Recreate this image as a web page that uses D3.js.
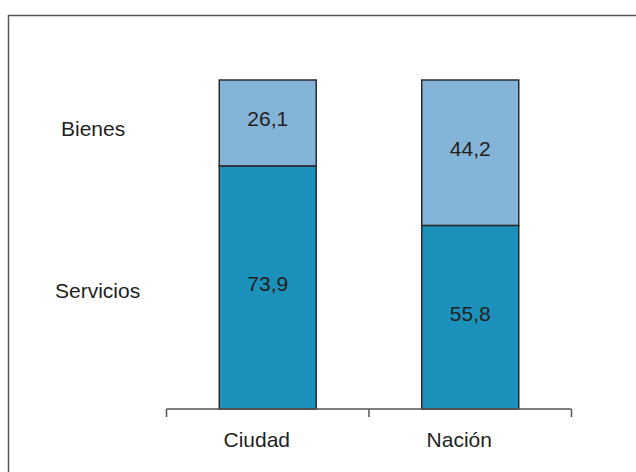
<!DOCTYPE html>
<html>
<head>
<meta charset='utf-8' />
<title>Bienes y servicios</title>
<script src="https://d3js.org/d3.v7.min.js"></script>
<style>
body { margin: 0; padding: 0; background: #fff; }
#chart text { font-family: "Liberation Sans", Arial, sans-serif; fill: #231f20; }
</style>
</head>
<body>
<div id='chart'></div>
<script>

// data
var categories = ["Ciudad", "Nación"];
var series = ["Servicios", "Bienes"];
var servicios = [73.9, 55.8];
var bienes = [26.1, 44.2];
var valueLabels = { Servicios: ["73,9", "55,8"], Bienes: ["26,1", "44,2"] };

var width = 636, height = 472;

var svg = d3.select("#chart")
  .append("svg")
    .attr("width", width)
    .attr("height", height);

// frame (top + left edges only)
svg.append("path")
  .attr("d", "M8.5," + height + "V15.5H" + width)
  .attr("fill", "none")
  .attr("stroke", "#555")
  .attr("stroke-width", 1.5);

var rows = categories.map(function(c, i) {
  return { cat: c, Servicios: servicios[i], Bienes: bienes[i] };
});

var stacked = d3.stack().keys(series)(rows);

var x = d3.scaleBand()
  .domain(categories)
  .range([166.5, 571.5])
  .paddingInner(0)
  .paddingOuter(0);

var y = d3.scaleLinear()
  .domain([0, 100])
  .range([409, 80]);

var barW = 97;

var color = d3.scaleOrdinal()
  .domain(series)
  .range(["#1b91bb", "#85b4d9"]);

//////////
// BARS //
//////////

var layers = svg.selectAll("g.layer")
  .data(stacked)
  .enter()
  .append("g")
    .attr("class", "layer")
    .attr("fill", function(d) { return color(d.key); });

layers.selectAll("rect")
  .data(function(d) { return d; })
  .enter()
  .append("rect")
    .attr("x", function(d) { return x(d.data.cat) + (x.bandwidth() - barW) / 2; })
    .attr("y", function(d) { return y(d[1]); })
    .attr("width", barW)
    .attr("height", function(d) { return y(d[0]) - y(d[1]); })
    .attr("stroke", "#2b2b2b")
    .attr("stroke-width", 1.5);

// value labels
layers.each(function(layer) {
  d3.select(this).selectAll("text")
    .data(layer)
    .enter()
    .append("text")
      .attr("x", function(d) { return x(d.data.cat) + x.bandwidth() / 2; })
      .attr("y", function(d) { return (y(d[0]) + y(d[1])) / 2 - 4; })
      .attr("dy", "0.35em")
      .attr("text-anchor", "middle")
      .style("font-size", "21px")
      .text(function(d, i) { return valueLabels[layer.key][i]; });
});

//////////
// AXIS //
//////////

var axis = svg.append("g")
  .attr("transform", "translate(0,409)");

axis.append("line")
  .attr("x1", x.range()[0]).attr("x2", x.range()[1])
  .attr("stroke", "#555").attr("stroke-width", 1.5);

var tickPos = categories.map(function(c) { return x(c); }).concat([x.range()[1]]);
axis.selectAll("line.tick")
  .data(tickPos)
  .enter()
  .append("line")
    .attr("class", "tick")
    .attr("x1", function(d) { return d; })
    .attr("x2", function(d) { return d; })
    .attr("y1", 0).attr("y2", 8)
    .attr("stroke", "#555").attr("stroke-width", 1.5);

axis.selectAll("text")
  .data(categories)
  .enter()
  .append("text")
    .attr("x", function(d) { return x(d) + x.bandwidth() / 2 - 11; })
    .attr("y", 38)
    .attr("text-anchor", "middle")
    .style("font-size", "21px")
    .text(function(d) { return d; });

// series names on the left
var legendY = { Bienes: 136, Servicios: 298 };
svg.selectAll("text.legend")
  .data(series)
  .enter()
  .append("text")
    .attr("class", "legend")
    .attr("x", function(d) { return d === "Bienes" ? 61 : 55; })
    .attr("y", function(d) { return legendY[d]; })
    .style("font-size", "21px")
    .text(function(d) { return d; });

</script>
</body>
</html>
